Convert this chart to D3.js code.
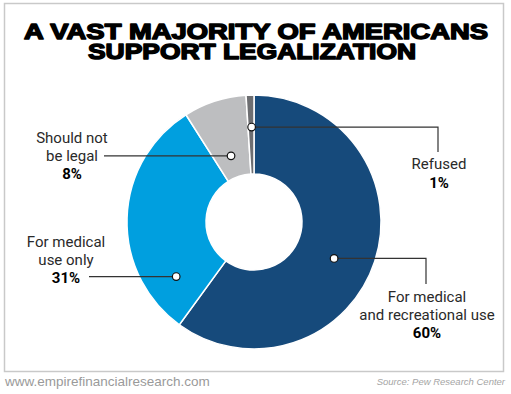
<!DOCTYPE html>
<html>
<head>
<meta charset="utf-8">
<script src="https://cdn.jsdelivr.net/npm/d3@7"></script>
<style>
  body { margin: 0; background: #fff; }
  svg { display: block; }
</style>
</head>
<body>
<div class="chart"></div>
<script>
// data
const categories = ["For medical and recreational use", "For medical use only", "Should not be legal", "Refused"];
const values = [60, 31, 8, 1];
const labelLines = [["For medical", "and recreational use"], ["For medical", "use only"], ["Should not", "be legal"], ["Refused"]];
const colors = ["#164a7b", "#009fdf", "#bdbec0", "#6d6e71"];

const width = 511, height = 394;
const cx = 254, cy = 222, outerR = 127, innerR = 48;

// callout layout: where along the slice the dot sits, and where the text goes
const callouts = [
  { t: 0.53, r: 88,  tx: 427, ty: 302, elbowY: 284, side: "right" },
  { t: 0.17, r: 95,  tx: 66,  ty: 247, lineTo: 89,  side: "left" },
  { t: 0.46, r: 70,  tx: 72,  ty: 143, lineTo: 104, side: "left" },
  { t: 0.6,  r: 95,  tx: 439, ty: 169, elbowY: 152, side: "right" }
];

const svg = d3.select('.chart').append('svg')
  .attr('width', width)
  .attr('height', height);

// frame
svg.append('rect')
  .attr('x', 4.5).attr('y', 3.5)
  .attr('width', 499).attr('height', 368)
  .attr('fill', 'none')
  .attr('stroke', '#c9c9c9')
  .attr('stroke-width', 1.5);

// title
const title = svg.append('g')
  .attr('font-family', '"Liberation Sans", Arial, sans-serif')
  .attr('font-weight', 'bold')
  .attr('font-size', 22.5)
  .attr('fill', '#000')
  .attr('stroke', '#000')
  .attr('stroke-width', 1.5)
  .attr('stroke-linejoin', 'round')
  .attr('text-anchor', 'middle');
title.append('text').attr('x', 256).attr('y', 39)
  .attr('textLength', 464).attr('lengthAdjust', 'spacingAndGlyphs')
  .text('A VAST MAJORITY OF AMERICANS');
title.append('text').attr('x', 252).attr('y', 59)
  .attr('textLength', 328).attr('lengthAdjust', 'spacingAndGlyphs')
  .text('SUPPORT LEGALIZATION');

// donut
const pie = d3.pie().sort(null).value(d => d);
const arcs = pie(values);
const arc = d3.arc().innerRadius(innerR).outerRadius(outerR);

const g = svg.append('g').attr('transform', `translate(${cx},${cy})`);
g.selectAll('path')
  .data(arcs)
  .join('path')
  .attr('d', arc)
  .attr('fill', (d, i) => colors[i])
  .attr('stroke', '#fff')
  .attr('stroke-width', 1.5);

// callouts
const lab = svg.append('g')
  .attr('font-family', 'Roboto, "Noto Sans", sans-serif')
  .attr('font-size', 15)
  .attr('fill', '#2a2a2a');

arcs.forEach((d, i) => {
  const c = callouts[i];
  const a = d.startAngle + c.t * (d.endAngle - d.startAngle);
  const [px, py] = d3.pointRadial(a, c.r);
  const dx = cx + px, dy = cy + py;

  let pts;
  if (c.side === "right") {
    pts = [[dx, dy], [c.tx - 1, dy], [c.tx - 1, c.elbowY]];
  } else {
    pts = [[c.lineTo, dy], [dx, dy]];
  }
  lab.append('path')
    .attr('d', d3.line()(pts))
    .attr('fill', 'none')
    .attr('stroke', '#333')
    .attr('stroke-width', 1.2);

  lab.append('circle')
    .attr('cx', dx).attr('cy', dy).attr('r', 3.8)
    .attr('fill', '#fff')
    .attr('stroke', '#111')
    .attr('stroke-width', 1.2);

  const lines = labelLines[i];
  const t = lab.append('text').attr('text-anchor', 'middle');
  lines.forEach((l, k) => {
    t.append('tspan').attr('x', c.tx).attr('y', c.ty + k * 17.5).text(l);
  });
  t.append('tspan')
    .attr('x', c.tx).attr('y', c.ty + lines.length * 17.5 + 1)
    .attr('font-weight', 'bold')
    .attr('fill', '#000')
    .text(d.value + '%');
});

// footer
svg.append('text')
  .attr('x', 5).attr('y', 386)
  .attr('font-family', '"Liberation Sans", Arial, sans-serif')
  .attr('font-size', 13.5)
  .attr('fill', '#9a9a9a')
  .text('www.empirefinancialresearch.com');

svg.append('text')
  .attr('x', 505).attr('y', 385)
  .attr('text-anchor', 'end')
  .attr('font-family', '"Liberation Sans", Arial, sans-serif')
  .attr('font-size', 9.5)
  .attr('font-style', 'italic')
  .attr('fill', '#a5a5a5')
  .text('Source: Pew Research Center');
</script>
</body>
</html>
